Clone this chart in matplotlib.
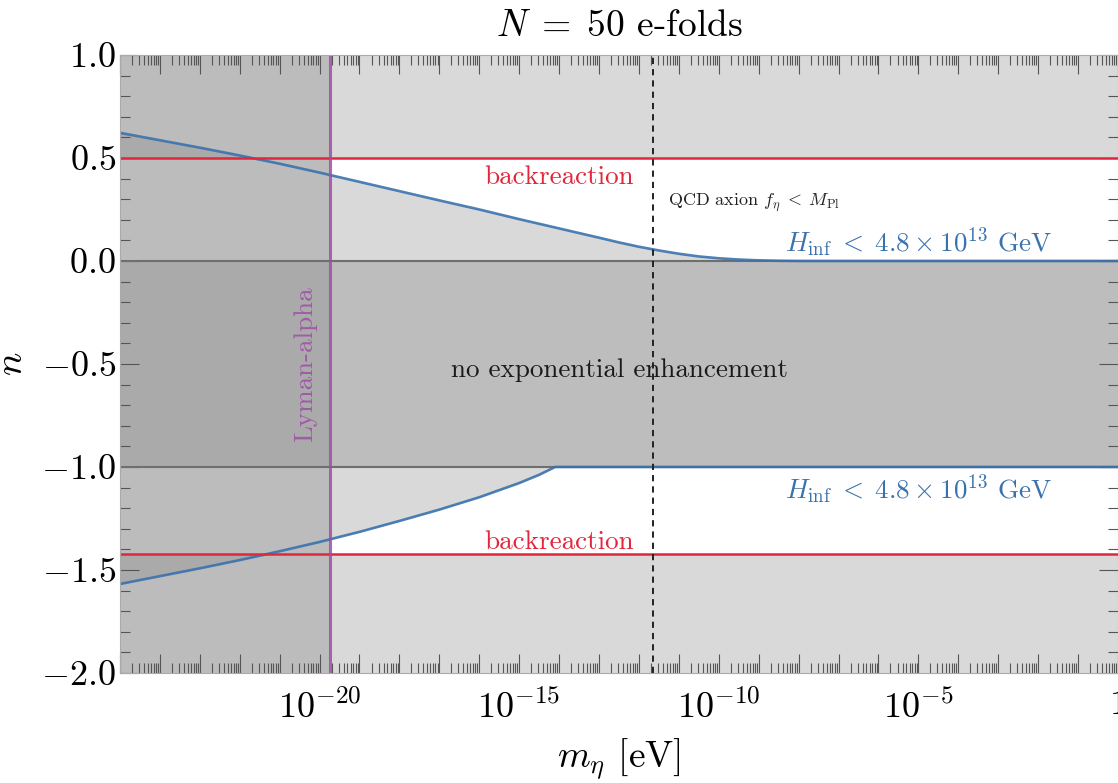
import numpy as np
import matplotlib
matplotlib.use("Agg")
import matplotlib.pyplot as plt
from matplotlib.ticker import FixedLocator, FuncFormatter, MultipleLocator

plt.rcParams['font.family'] = ['cmr10', 'DejaVu Serif']
plt.rcParams['mathtext.fontset'] = 'cm'
plt.rcParams['axes.formatter.use_mathtext'] = True
plt.rcParams['axes.unicode_minus'] = False

# H_inf bound, upper branch (n > 0)
logm_up = [-25, -24, -23, -22, -21, -20, -19, -18, -17, -16, -15, -14, -13,
           -12.5, -12, -11.5, -11, -10.5, -10, -9.5, -9, -8.5, -8, -7.5, 0]
n_up = [0.622, 0.586, 0.550, 0.512, 0.472, 0.429, 0.384, 0.339, 0.294, 0.250,
        0.203, 0.158, 0.113, 0.090, 0.069, 0.051, 0.035, 0.022, 0.013, 0.007,
        0.003, 0.001, 0.0, 0.0, 0.0]

# H_inf bound, lower branch (n < -1)
logm_low = [-25, -24, -23, -22, -21, -20, -19, -18, -17, -16, -15, -14.5,
            -14.1, 0]
n_low = [-1.568, -1.530, -1.492, -1.452, -1.409, -1.364, -1.315, -1.262,
         -1.207, -1.147, -1.078, -1.038, -1.0, -1.0]

n_backreaction = [0.5, -1.42]
n_band = [-1.0, 0.0]
m_lyman = 1.8e-20
m_qcd = 2.3e-12
xlim = [1e-25, 1e0]
ylim = [-2.0, 1.0]

light = '#d9d9d9'
mid = '#bdbdbd'
lyman_grey = '#bcbcbc'
dark = '#aaaaaa'
blue = '#3a72ad'
red = '#e2263b'
purple = '#9c4fa0'

m_up = 10.0 ** np.array(logm_up)
n_up = np.array(n_up)
m_low = 10.0 ** np.array(logm_low)
n_low = np.array(n_low)

fig = plt.figure(figsize=(11.18, 7.83), dpi=100)
ax = fig.add_axes([0.1073, 0.1405, 0.8927, 0.7893])
ax.set_xscale('log')
ax.set_xlim(xlim)
ax.set_ylim(ylim)

# excluded regions
ax.axhspan(n_backreaction[0], ylim[1], color=light, lw=0, zorder=0)
ax.axhspan(ylim[0], n_backreaction[1], color=light, lw=0, zorder=0)
ax.fill_between(m_up, 0.0, n_up, color=light, lw=0, zorder=0)
ax.fill_between(m_low, n_low, -1.0, color=light, lw=0, zorder=0)
ax.axhspan(n_band[0], n_band[1], color=mid, lw=0, zorder=0.5)

# Lyman-alpha excluded masses
ax.axvspan(xlim[0], m_lyman, color=lyman_grey, lw=0, zorder=1)
ax.fill_between([xlim[0], m_lyman], n_band[0], n_band[1], color=dark, lw=0,
                zorder=1.2)
ax.fill_between(m_up, n_backreaction[0], n_up, where=n_up > n_backreaction[0],
                interpolate=True, color=dark, lw=0, zorder=1.2)
ax.fill_between(m_low, n_low, n_backreaction[1],
                where=n_low < n_backreaction[1],
                interpolate=True, color=dark, lw=0, zorder=1.2)

# lines
for v in n_band:
    ax.axhline(v, color='#6f6f6f', lw=1.5, zorder=2)
ax.plot(m_up, n_up, color=blue, lw=1.9, alpha=0.9, zorder=3)
ax.plot(m_low, n_low, color=blue, lw=1.9, alpha=0.9, zorder=3)
for v in n_backreaction:
    ax.axhline(v, color=red, lw=1.8, zorder=3)
ax.axvline(m_lyman, color=purple, lw=2.2, alpha=0.85, zorder=3.5)
ax.axvline(m_qcd, color='#222222', lw=1.4, ls=(0, (3.2, 2.6)), zorder=3)

# annotations
hinf = r'$H_{\rm inf}\;<\;4.8\times10^{13}$ GeV'
ax.text(1e-14, 0.374, 'backreaction', color=red, fontsize=19.5,
        ha='center', va='baseline', zorder=4)
ax.text(1e-14, -1.398, 'backreaction', color=red, fontsize=19.5,
        ha='center', va='baseline', zorder=4)
ax.text(5.4e-12, 0.272, r'QCD axion $f_\eta\;<\;M_{\rm Pl}$', color='#222222',
        fontsize=13, ha='left', va='baseline', zorder=4)
ax.text(1e-5, 0.045, hinf, color=blue, fontsize=19.5, ha='center',
        va='baseline', zorder=4)
ax.text(1e-5, -1.155, hinf, color=blue, fontsize=19.5, ha='center',
        va='baseline', zorder=4)
ax.text(10 ** -12.5, -0.562, 'no exponential enhancement', color='#1a1a1a',
        fontsize=19.5, ha='center', va='baseline', zorder=4)
ax.text(8.7e-21, -0.5, 'Lyman-alpha', color='#a05aa8', fontsize=19.5,
        rotation=90, ha='right', va='center', zorder=4)

# ticks
decades = np.arange(-25, 1)
ax.xaxis.set_major_locator(FixedLocator(10.0 ** decades))
ax.xaxis.set_minor_locator(FixedLocator(
    [s * 10.0 ** k for k in decades[:-1] for s in range(2, 10)]))


def xfmt(v, pos):
    k = int(round(np.log10(v)))
    if k % 5 or k == -25:
        return ''
    if k == 0:
        return '$1$'
    return '$10^{%d}$' % k


ax.xaxis.set_major_formatter(FuncFormatter(xfmt))
ax.yaxis.set_major_locator(MultipleLocator(0.5))
ax.yaxis.set_minor_locator(MultipleLocator(0.1))
ax.yaxis.set_major_formatter(FuncFormatter(lambda v, pos: '$%.1f$' % v))

ax.tick_params(which='both', direction='in', top=True, right=True,
               color='#555555', width=0.8, labelsize=26)
ax.tick_params(which='major', length=14)
ax.tick_params(which='minor', length=7)
ax.tick_params(axis='x', pad=12)
ax.tick_params(axis='y', pad=3)
for sp in ax.spines.values():
    sp.set_color('#aaaaaa')
    sp.set_zorder(5)

ax.set_xlabel(r'$m_\eta$ [eV]', fontsize=27, labelpad=8)
ax.set_ylabel(r'$n$', fontsize=28)
ax.yaxis.set_label_coords(-0.090, 0.5)
ax.set_title(r'$N\;=\;50$ e-folds', fontsize=27, pad=14)

fig.savefig('out.png', dpi=100)
